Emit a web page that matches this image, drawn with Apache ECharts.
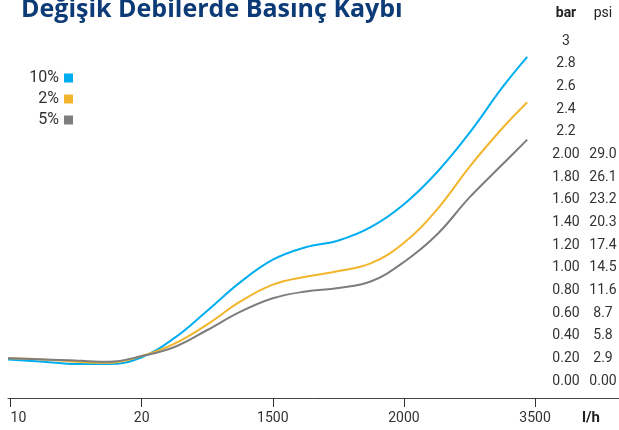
<!DOCTYPE html>
<html>
<head>
<meta charset="utf-8">
<title>Değişik Debilerde Basınç Kaybı</title>
<script src="https://cdn.jsdelivr.net/npm/echarts@6/dist/echarts.min.js"></script>
<style>
	html,body{margin:0;padding:0;background:#fff;}
	.chart{width:619px;height:430px;}
</style>
</head>
<body>
<div class="box"><div class="chart"></div></div>
<script>
// x positions: 0..4 are the tick positions of the labels below
var flowLabels = ['10', '20', '1500', '2000', '3500'];
var xPos = [-0.02, 0.25, 0.5, 0.75, 1, 1.25, 1.5, 1.75, 2, 2.25, 2.5, 2.75, 3, 3.25, 3.5, 3.75, 3.94];
// bar values
var loss10 = [0.19, 0.17, 0.15, 0.15, 0.21, 0.38, 0.62, 0.87, 1.07, 1.18, 1.24, 1.36, 1.56, 1.84, 2.19, 2.59, 2.86];
var loss2 = [0.20, 0.19, 0.17, 0.16, 0.22, 0.33, 0.50, 0.70, 0.85, 0.92, 0.97, 1.04, 1.22, 1.51, 1.89, 2.23, 2.46];
var loss5 = [0.20, 0.19, 0.18, 0.17, 0.22, 0.30, 0.45, 0.61, 0.73, 0.79, 0.82, 0.88, 1.05, 1.29, 1.62, 1.91, 2.13];
// right side scales
var barTicks = [0, 0.2, 0.4, 0.6, 0.8, 1, 1.2, 1.4, 1.6, 1.8, 2, 2.2, 2.4, 2.6, 2.8, 3];
var barLabels = ['0.00', '0.20', '0.40', '0.60', '0.80', '1.00', '1.20', '1.40', '1.60', '1.80', '2.00', '2.2', '2.4', '2.6', '2.8', '3'];
var psiLabels = ['0.00', '2.9', '5.8', '8.7', '11.6', '14.5', '17.4', '20.3', '23.2', '26.1', '29.0'];

(function(){
	var myChart = echarts.init(document.querySelector(".chart"));
	var font = 'Roboto, sans-serif';
	function pairs(vals){
		return xPos.map(function(x, i){ return [x, vals[i]]; });
	}
	function legendItem(name, top){
		return {
			data: [name],
			orient: 'vertical',
			right: 546,
			top: top,
			padding: 0,
			align: 'right',
			icon: 'rect',
			itemWidth: 9,
			itemHeight: 9,
			textStyle: { color: '#333', fontSize: 16, fontFamily: font }
		};
	}
	function rightAxis(offset, labels){
		return {
			type: 'value',
			min: -0.15,
			max: 3,
			position: 'right',
			offset: offset,
			axisLine: { show: false },
			axisTick: { show: false },
			splitLine: { show: false },
			axisLabel: {
				customValues: barTicks,
				margin: 0,
				align: 'center',
				color: '#333',
				fontSize: 14,
				fontFamily: font,
				formatter: function(v){
					var i = Math.round(v / 0.2);
					return i < labels.length ? labels[i] : '';
				}
			}
		};
	}
	// unit names above the two right hand scales
	function unitText(text, x, bold){
		return {
			type: 'text',
			x: x,
			y: 13,
			style: {
				text: text,
				align: 'center',
				verticalAlign: 'middle',
				fill: '#222',
				font: (bold ? 'bold ' : '') + '14px Roboto, sans-serif'
			}
		};
	}
	var option = {
		color: ['#00aeef', '#f2b52c', '#7d7d7d'],
		animation: false,
		title: {
			text: 'Değişik Debilerde Basınç Kaybı',
			left: 16,
			top: -8,
			textStyle: { color: '#0c3b77', fontSize: 25, fontWeight: 'bold', fontFamily: 'Open Sans, sans-serif' }
		},
		legend: [legendItem('10%', 70), legendItem('2%', 91), legendItem('5%', 112)],
		graphic: [unitText('bar', 566, true), unitText('psi', 603, false)],
		grid: {
			left: 8,
			right: 0,
			top: 41,
			bottom: 32,
			outerBoundsMode: 'none'
		},
		xAxis: {
			type: 'value',
			min: -0.02,
			max: 4.64,
			name: 'l/h',
			nameLocation: 'end',
			nameGap: -37,
			nameMoveOverlap: false,
			nameTextStyle: { color: '#222', fontSize: 15, fontWeight: 'bold', fontFamily: font, verticalAlign: 'top', padding: [13, 0, 0, 0] },
			axisLine: { onZero: false, lineStyle: { color: '#444', width: 1 } },
			axisTick: { customValues: [0, 1, 2, 3, 4], length: 9, lineStyle: { color: '#333' } },
			axisLabel: {
				customValues: [0, 1, 2, 3, 4],
				margin: 13,
				color: '#333',
				fontSize: 14,
				fontFamily: font,
				alignMinLabel: 'left',
				formatter: function(v){ return flowLabels[Math.round(v)]; }
			},
			splitLine: { show: false }
		},
		yAxis: [
			rightAxis(-53, barLabels),
			rightAxis(-16, psiLabels)
		],
		series: [
			{ name: '10%', type: 'line', smooth: 0.4, showSymbol: false, lineStyle: { width: 2 }, data: pairs(loss10) },
			{ name: '2%', type: 'line', smooth: 0.4, showSymbol: false, lineStyle: { width: 2 }, data: pairs(loss2) },
			{ name: '5%', type: 'line', smooth: 0.4, showSymbol: false, lineStyle: { width: 2 }, data: pairs(loss5) }
		]
	};
	myChart.setOption(option);
	window.addEventListener('resize', function(){
		myChart.resize();
	});
})();
</script>
</body>
</html>
